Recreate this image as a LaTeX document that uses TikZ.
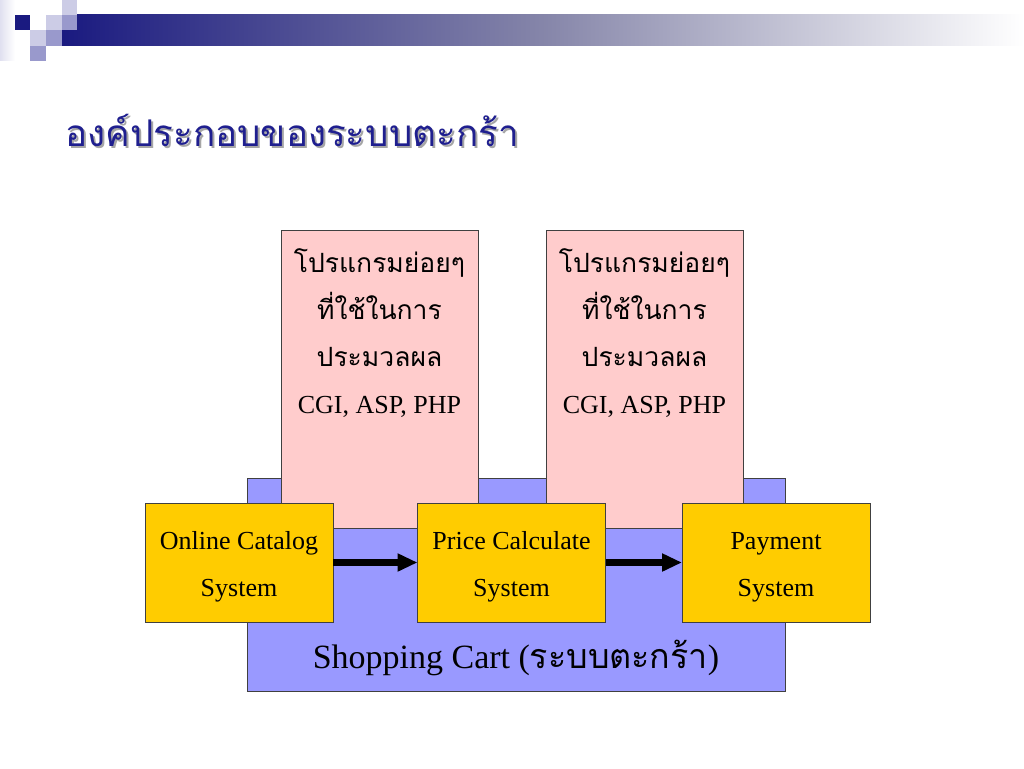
\documentclass[tikz,border=0pt]{standalone}
\usepackage{fontspec}
\setmainfont{Liberation Serif}
\newfontfamily\thai[Script=Thai]{Loma}
\usetikzlibrary{arrows.meta}
\definecolor{navy}{HTML}{1A1A80}
\definecolor{midnavy}{HTML}{9999CC}
\definecolor{lightnavy}{HTML}{CCCCE6}
\definecolor{titleblue}{HTML}{1F1F8F}
\definecolor{cartblue}{HTML}{9999FF}
\definecolor{pinkfill}{HTML}{FFCCCC}
\definecolor{yellowfill}{HTML}{FFCC00}
\definecolor{edge}{HTML}{404040}
\newcommand{\thline}[1]{{\thai\fontsize{26.5}{47}\selectfont #1}}
\tikzset{
  panel/.style={draw=edge, line width=1pt, inner sep=0pt, outer sep=0pt},
  cartbox/.style={panel, fill=cartblue, minimum width=538pt, minimum height=213pt},
  subbox/.style={panel, fill=pinkfill, minimum width=197pt, minimum height=298pt},
  sysbox/.style={panel, fill=yellowfill, minimum width=188pt, minimum height=119pt},
  boxtext/.style={align=center, font=\fontsize{26}{47}\selectfont, inner sep=0pt},
  flow/.style={line width=7pt, -{Triangle[length=20pt,width=17pt]}},
  titlefont/.style={anchor=west, font=\thai\fontsize{36.8}{42}\selectfont},
}
\begin{document}
\begin{tikzpicture}[x=1pt,y=-1pt]
\useasboundingbox (0,0) rectangle (1024,768);
\fill[white] (0,0) rectangle (1024,768);
% header decoration
\shade[left color=lightnavy!60, right color=white] (0,0) rectangle (15,60);
\shade[left color=navy, right color=white, middle color=navy!35!lightgray] (62,15) rectangle (1024,46);
\fill[navy] (15,15) rectangle (30,30);
\fill[lightnavy] (46,15) rectangle (62,30);
\fill[lightnavy] (62,0) rectangle (77,15);
\fill[midnavy] (62,15) rectangle (77,30);
\fill[lightnavy] (30,30) rectangle (46,46);
\fill[midnavy] (46,30) rectangle (62,46);
\fill[midnavy] (30,46) rectangle (46,61);
% title
\node[titlefont, text=gray!70] (titleshadow) at (64,132) {องค์ประกอบของระบบตะกร้า};
\node[titlefont, text=titleblue] (title) at (62,130) {องค์ประกอบของระบบตะกร้า};
% boxes
\node[cartbox] (cart) at (516,584.5) {};
\node[subbox] (sub1) at (379.5,379) {};
\node[subbox] (sub2) at (644.5,379) {};
\node[boxtext] (sub1text) at (379.5,333) {\thline{โปรแกรมย่อยๆ}\\\thline{ที่ใช้ในการ}\\\thline{ประมวลผล}\\CGI, ASP, PHP};
\node[boxtext] (sub2text) at (644.5,333) {\thline{โปรแกรมย่อยๆ}\\\thline{ที่ใช้ในการ}\\\thline{ประมวลผล}\\CGI, ASP, PHP};
\node[sysbox] (cat) at (239,562.5) {};
\node[sysbox] (price) at (511.5,562.5) {};
\node[sysbox] (pay) at (776,562.5) {};
\node[boxtext] (cattext) at (239,567) {Online Catalog\\System};
\node[boxtext] (pricetext) at (511.5,567) {Price Calculate\\System};
\node[boxtext] (paytext) at (776,567) {Payment\\System};
\node[inner sep=0pt, font=\fontsize{34}{40}\selectfont] (cartlabel) at (516,658) {Shopping Cart ({\thai ระบบตะกร้า})};
\draw[flow] (cat.east) -- (price.west);
\draw[flow] (price.east) -- (pay.west);
\end{tikzpicture}
\end{document}
